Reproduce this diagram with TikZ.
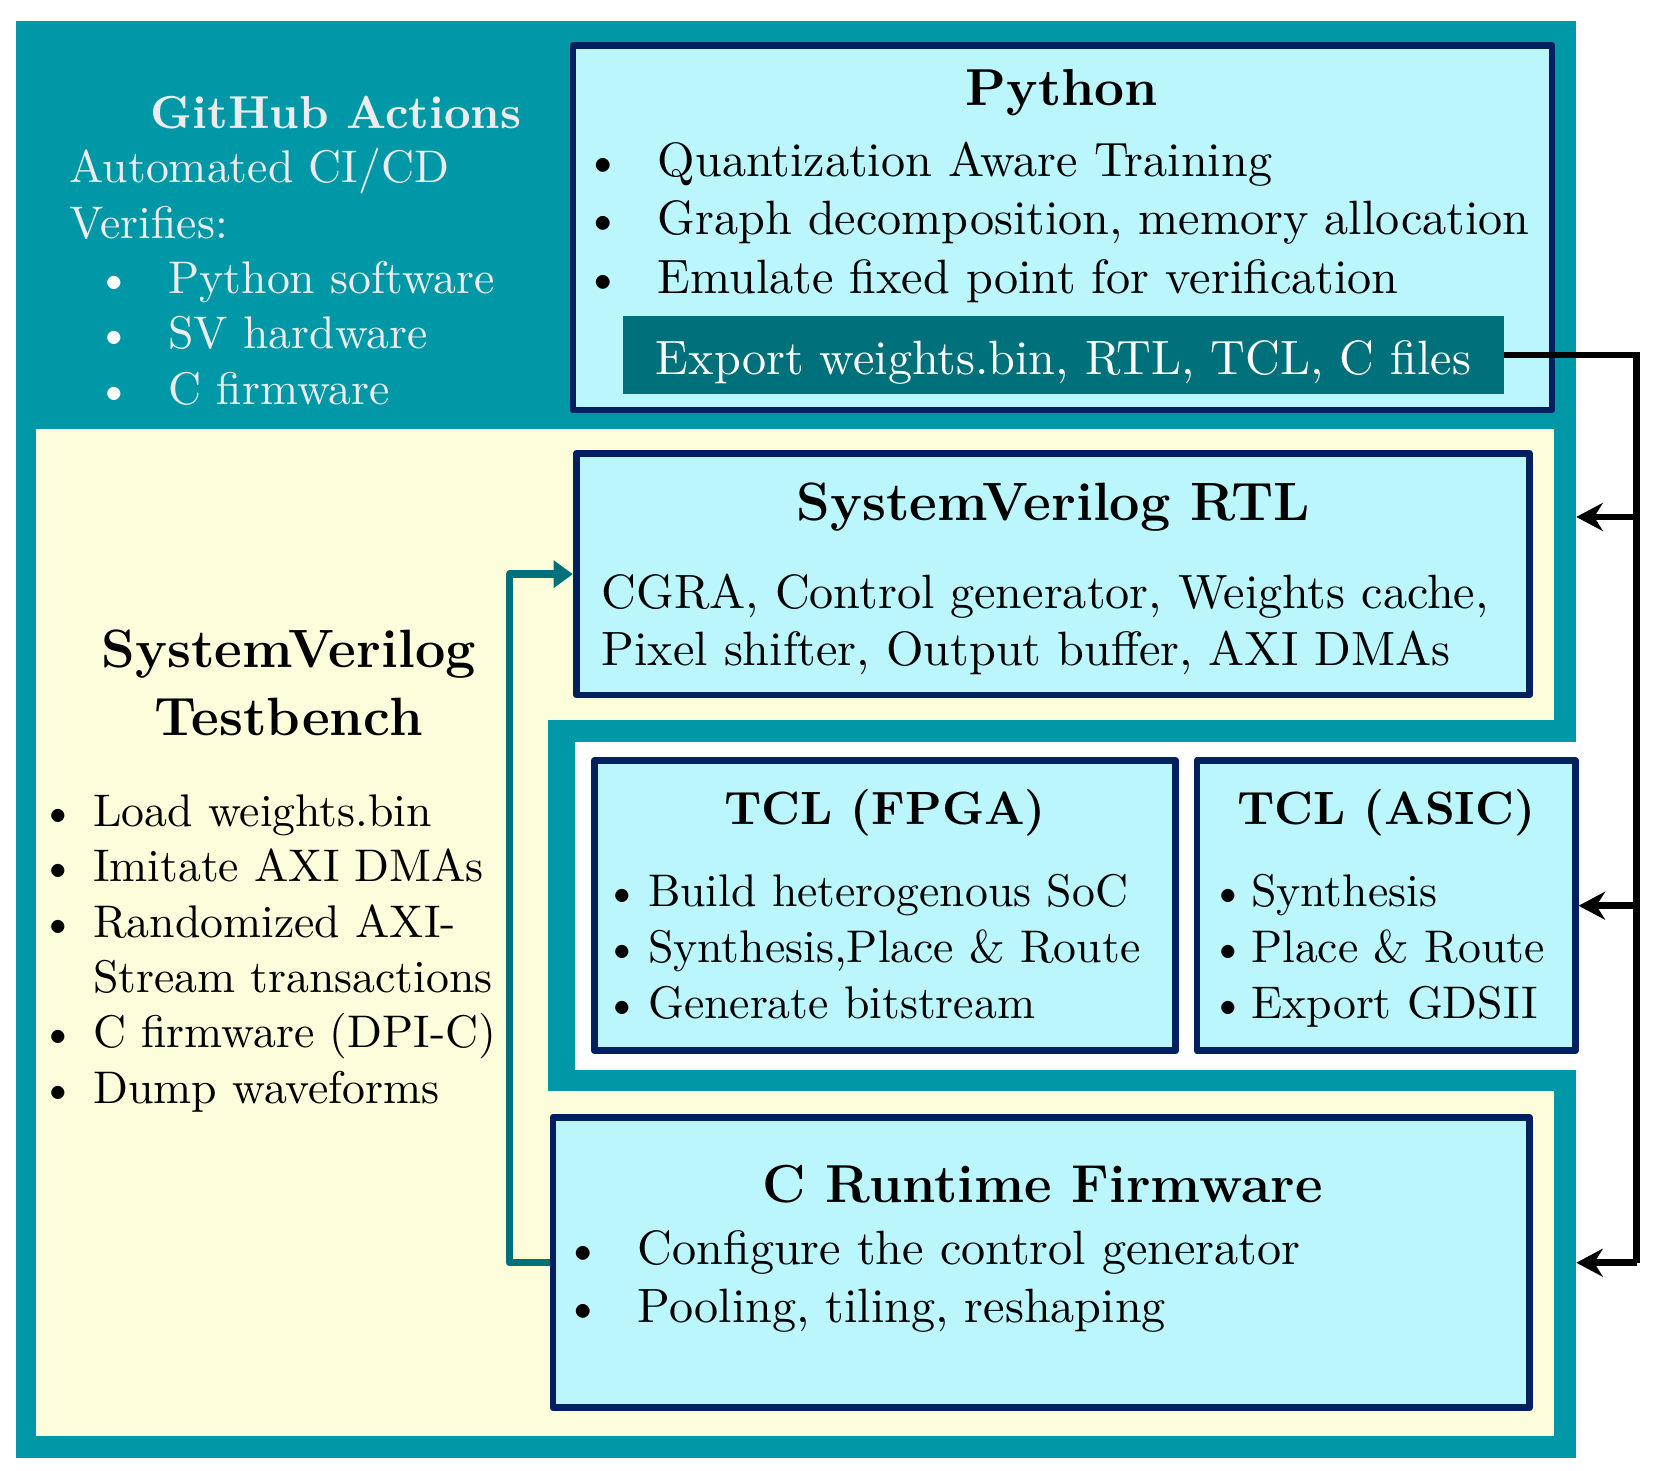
\documentclass[tikz,border=0pt]{standalone}
\usetikzlibrary{arrows.meta,fit}
\definecolor{tealA}{RGB}{0,151,167}
\definecolor{yel}{RGB}{252,253,218}
\definecolor{cyanbox}{RGB}{186,246,252}
\definecolor{navy}{RGB}{0,32,96}
\definecolor{darkteal}{RGB}{0,112,122}
\definecolor{ghgray}{RGB}{236,236,236}
\tikzset{
  box/.style={draw=navy, line width=1.4pt, fill=cyanbox, line join=round, inner sep=0pt},
  bg/.style={inner sep=0pt, outer sep=0pt},
  ttl/.style={anchor=base, font=\fontsize{10.8}{13}\selectfont\bfseries, inner sep=0pt},
  txt/.style={anchor=base west, align=left, inner sep=0pt},
  blk/.style={draw=black, line width=1.4pt},
  tl/.style={draw=darkteal, line width=1.55pt, line join=round},
  tip/.style={-{Stealth[length=5.5pt,width=5.8pt]}},
}
\begin{document}
\begin{tikzpicture}[x=0.22pt,y=-0.22pt]
\useasboundingbox (0,0) rectangle (1568,1388.5);
% backgrounds
\node[bg, fill=tealA, fit={(15,20) (1488,1376)}] (outer) {};
\fill[yel] (34,405) rectangle (1467,1356);
\fill[tealA] (517,680) rectangle (1488,1030);
\fill[white] (543,700) rectangle (1488,1010);

% GitHub Actions (multi-line nodes: base = last line)
\node[txt, text=ghgray, font=\fontsize{9.6}{11.5}\selectfont\bfseries] (gh) at (141.6,121) {GitHub Actions};
\node[txt, text=ghgray, font=\fontsize{9.5}{11.5}\selectfont] (ghb) at (65,381.5) {Automated CI/CD\\
Verifies:\\
\hspace*{5.5pt}\makebox[15pt][l]{\textcolor{white}{\textbullet}}Python software\\
\hspace*{5.5pt}\makebox[15pt][l]{\textcolor{white}{\textbullet}}SV hardware\\
\hspace*{5.5pt}\makebox[15pt][l]{\textcolor{white}{\textbullet}}C firmware};

% Python box
\node[box, fit={(541,43) (1465,387)}] (py) {};
\node[ttl] (pyt) at (1002.5,100) {Python};
\node[txt, font=\fontsize{10}{12.1}\selectfont] (pyb) at (551,276.8) {\makebox[15.2pt][l]{\textbullet}Quantization Aware Training\\
\makebox[15.2pt][l]{\textbullet}Graph decomposition, memory allocation\\
\makebox[15.2pt][l]{\textbullet}Emulate fixed point for verification};
\node[bg, fill=darkteal, fit={(588,298) (1420,372)}] (export) {};
\node[text=white, font=\fontsize{10}{12}\selectfont, inner sep=0pt, anchor=center, yshift=-1.5pt] (exportt) at (export.center) {Export weights.bin, RTL, TCL, C files};

% SystemVerilog RTL
\node[box, fit={(544,428) (1444,656)}] (rtl) {};
\node[ttl, font=\fontsize{11.2}{13}\selectfont\bfseries] (rtlt) at (994,491.5) {SystemVerilog RTL};
\node[txt, font=\fontsize{10}{11.8}\selectfont] (rtlb) at (567,627.8) {CGRA, Control generator, Weights cache,\\
Pixel shifter, Output buffer, AXI DMAs};

% TCL boxes
\node[box, fit={(561,718) (1110,992)}] (fpga) {};
\node[ttl, font=\fontsize{9.7}{11.5}\selectfont\bfseries] (fpgat) at (835.5,778.7) {TCL (FPGA)};
\node[txt, font=\fontsize{9.5}{11.6}\selectfont] (fpgab) at (570,961.2) {\makebox[9pt][l]{\textbullet}Build heterogenous SoC\\
\makebox[9pt][l]{\textbullet}Synthesis,Place \& Route\\
\makebox[9pt][l]{\textbullet}Generate bitstream};
\node[box, fit={(1130,718) (1487,992)}] (asic) {};
\node[ttl, font=\fontsize{9.7}{11.5}\selectfont\bfseries] (asict) at (1308.5,778.7) {TCL (ASIC)};
\node[txt, font=\fontsize{9.5}{11.6}\selectfont] (asicb) at (1142,961.2) {\makebox[8.4pt][l]{\textbullet}Synthesis\\
\makebox[8.4pt][l]{\textbullet}Place \& Route\\
\makebox[8.4pt][l]{\textbullet}Export GDSII};

% C Runtime Firmware
\node[box, fit={(522,1055) (1444,1329)}] (cfw) {};
\node[ttl, font=\fontsize{11.1}{13}\selectfont\bfseries] (cfwt) at (984,1135) {C Runtime Firmware};
\node[txt, font=\fontsize{10}{12}\selectfont] (cfwb) at (532,1248.5) {\makebox[15.2pt][l]{\textbullet}Configure the control generator\\
\makebox[15.2pt][l]{\textbullet}Pooling, tiling, reshaping};

% Testbench
\node[ttl, align=center, font=\fontsize{11.2}{14.1}\selectfont\bfseries] (tbt) at (272.5,694) {SystemVerilog\\Testbench};
\node[txt, font=\fontsize{9.5}{11.5}\selectfont] (tbb) at (37,1041.4) {\makebox[11pt][l]{\textbullet}Load weights.bin\\
\makebox[11pt][l]{\textbullet}Imitate AXI DMAs\\
\makebox[11pt][l]{\textbullet}Randomized AXI-\\
\makebox[11pt][l]{}Stream transactions\\
\makebox[11pt][l]{\textbullet}C firmware (DPI-C)\\
\makebox[11pt][l]{\textbullet}Dump waveforms};

% black distribution connectors
\coordinate (j1) at (1545,488);
\coordinate (j2) at (1545,855);
\coordinate (j3) at (1545,1192);
\draw[blk] (export.east) -| (j3);
\draw[blk,tip] (j1) -- (outer.east |- j1);
\draw[blk,tip] (j2) -- (asic.east);
\draw[blk,tip] (j3) -- (outer.east |- j3);

% teal feedback connector
\draw[tl,-{Triangle[length=4pt,width=5.5pt]}] (cfw.west) -- ++(-38,0) |- (rtl.west);
\end{tikzpicture}
\end{document}
